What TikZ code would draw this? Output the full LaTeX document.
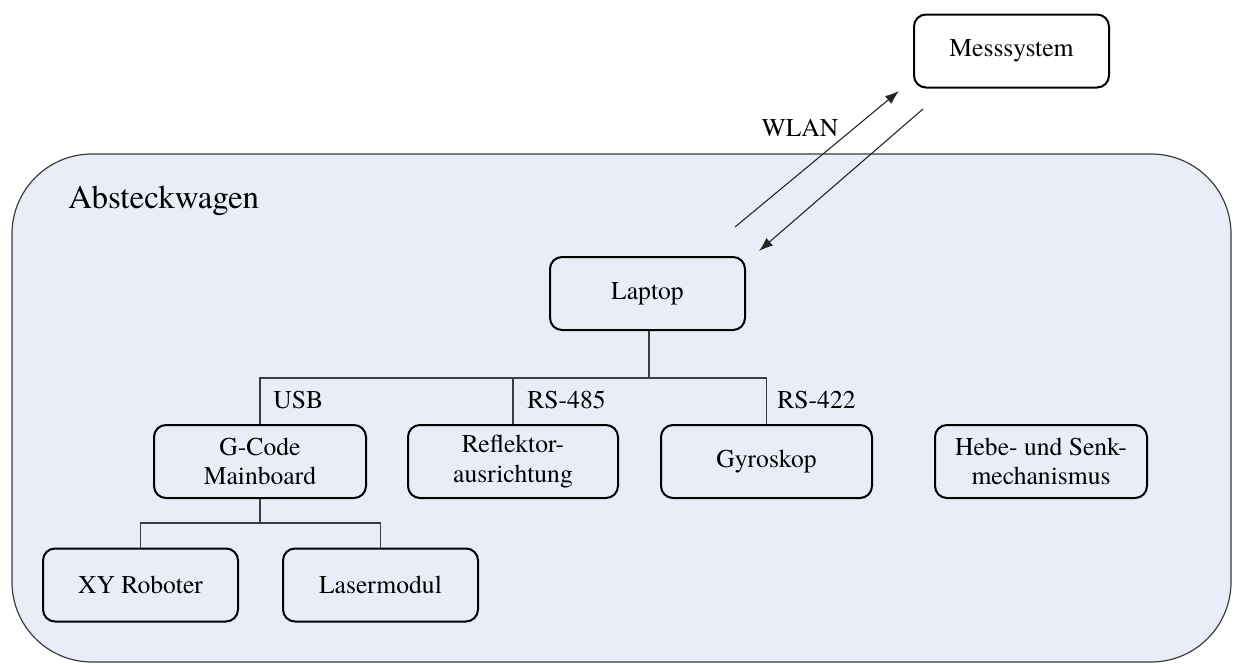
\documentclass[tikz,border=0pt]{standalone}
\usepackage{fontspec}
\setmainfont{texgyretermes-regular.otf}
\usetikzlibrary{arrows.meta}
\definecolor{wagenfill}{RGB}{233,237,247}
\definecolor{linegray}{RGB}{60,60,60}
\tikzset{
  x=0.5pt, y=-0.5pt,
  box/.style={draw=black, line width=1pt, rounded corners=6pt, fill=wagenfill,
    minimum width=#1*0.5pt, minimum height=36.5pt, inner sep=2pt, align=center,
    font=\fontsize{12.8}{14.8}\selectfont},
  box/.default=195,
  conn/.style={draw=linegray, line width=0.6pt},
  lbl/.style={font=\fontsize{12.8}{14.8}\selectfont, inner sep=0pt},
  arr/.style={draw=black!85, line width=0.55pt, -{Latex[length=7pt,width=5pt]}}
}
\begin{document}
\begin{tikzpicture}
\useasboundingbox (0,0) rectangle (1239,664);
% container
\draw[draw=linegray, line width=0.6pt, fill=wagenfill, rounded corners=40pt] (12,154) rectangle (1231,662);
\node[lbl, anchor=west, font=\fontsize{16.5}{19}\selectfont] (wagen) at (68,201) {Absteckwagen};
% nodes
\node[box=195, fill=white] (mess) at (1011.5,51) {Messsystem};
\node[box=195] (laptop) at (647.5,293.5) {Laptop};
\node[box=212] (gcode) at (260,461.5) {G-Code\\Mainboard};
\node[box=210] (refl) at (513,461.5) {Reflektor-\\ausrichtung};
\node[box=211] (gyro) at (766.5,461.5) {Gyroskop};
\node[box=212] (hebe) at (1041,461.5) {Hebe- und Senk-\\mechanismus};
\node[box=195] (xy) at (140.5,585) {XY Roboter};
\node[box=195] (laser) at (380.5,585) {Lasermodul};
% bus
\coordinate (bus) at (649,378);
\coordinate (sub) at (260,523);
\draw[conn] (laptop.south -| bus) -- (bus);
\draw[conn] (gcode.north) |- (gyro.north |- bus) -- (gyro.north);
\draw[conn] (refl.north) -- (refl.north |- bus);
\draw[conn] (gcode.south) -- (sub);
\draw[conn] (xy.north) |- (sub) -| (laser.north);
% labels
\node[lbl, anchor=west] (usb) at (273,400) {USB};
\node[lbl, anchor=west] (rs485) at (527,400) {RS-485};
\node[lbl, anchor=west] (rs422) at (777,400) {RS-422};
% WLAN arrows
\coordinate (a1s) at (735,227);
\coordinate (a1e) at (899,91);
\coordinate (a2s) at (923,109);
\coordinate (a2e) at (759,251);
\draw[arr] (a1s) -- (a1e);
\draw[arr] (a2s) -- (a2e);
\node[lbl] (wlan) at (800,128) {WLAN};
\end{tikzpicture}
\end{document}
